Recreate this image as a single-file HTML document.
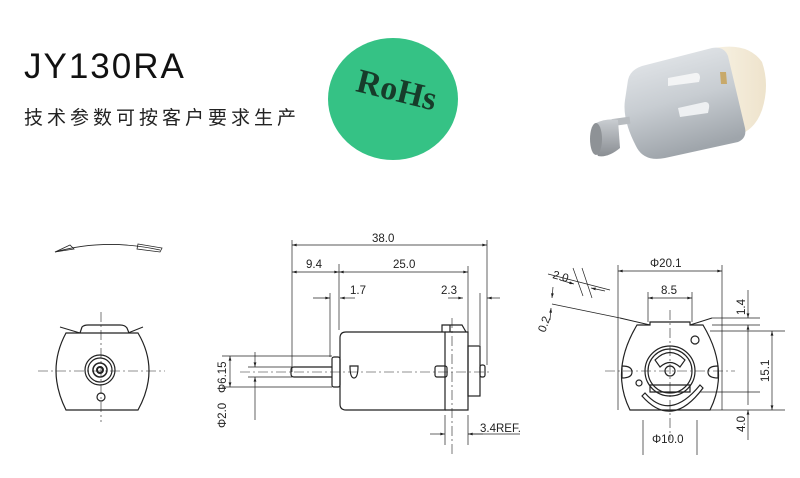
<!DOCTYPE html>
<html><head><meta charset="utf-8"><style>
html,body{margin:0;padding:0;background:#fff;width:800px;height:478px;overflow:hidden}
svg{display:block}
.t{font-family:"Liberation Sans",sans-serif;fill:#222}
</style></head><body>
<svg width="800" height="478" viewBox="0 0 800 478" xmlns="http://www.w3.org/2000/svg">
<defs>
<marker id="a" viewBox="0 0 10 6" refX="10" refY="3" markerWidth="8" markerHeight="4" orient="auto-start-reverse"><path d="M0,0L10,3L0,6z" fill="#222"/></marker>
<linearGradient id="m" x1="0" y1="0" x2="0.3" y2="1"><stop offset="0" stop-color="#e8ebee"/><stop offset="0.55" stop-color="#c8cdd2"/><stop offset="1" stop-color="#9fa5ab"/></linearGradient>
<linearGradient id="w" x1="0" y1="0" x2="1" y2="0"><stop offset="0" stop-color="#f7f1e2"/><stop offset="1" stop-color="#eee3cc"/></linearGradient>
<linearGradient id="g" x1="0" y1="0" x2="0" y2="1"><stop offset="0" stop-color="#c9cdd1"/><stop offset="1" stop-color="#8a8e93"/></linearGradient>
</defs>
<text class="t" x="24" y="78" font-size="35" letter-spacing="2" style="fill:#111">JY130RA</text>
<text x="24" y="124" font-size="19" letter-spacing="4" font-family="'Liberation Sans','Noto Sans CJK SC',sans-serif" fill="#222">技术参数可按客户要求生产</text>
<ellipse cx="393" cy="99" rx="65" ry="61" fill="#35c285"/>
<text x="355" y="102" font-size="34" font-weight="bold" font-family="'Liberation Serif',serif" fill="#173c2a" transform="rotate(14 400 95)">RoHs</text>
<g>
<path d="M715,48 Q748,42 762,62 Q770,85 762,110 Q755,130 738,135 L722,138 Z" fill="url(#w)"/>
<path d="M628,80 Q630,70 642,66 L712,48 Q724,46 728,56 L745,128 Q747,138 738,142 L665,158 Q645,162 637,148 Q622,120 625,100 Z" fill="url(#m)"/>
<path d="M668,78 L695,73 Q700,72 700,78 L699,82 L668,86 Z" fill="#f3f4f5"/>
<path d="M678,108 L705,102 Q710,102 709,108 L708,113 L680,117 Z" fill="#eef0f2"/>
<path d="M720,72 L726,72 L727,84 L721,84Z" fill="#c8a96a"/>
<rect x="612" y="118" width="18" height="7" fill="#b8bcc0" transform="rotate(-8 620 121)"/>
<path d="M596,123 Q607,118 618,120 L620,148 Q608,158 598,156 Q588,140 596,123Z" fill="url(#g)"/>
<ellipse cx="596" cy="139" rx="6" ry="16" fill="#8e9296"/>
</g>
<g stroke="#222" stroke-width="1.2" fill="none">
<path d="M55,252 Q105,238 160,250" stroke-width="0.8"/>
<path d="M55,252 L70,245 L74,249Z M138,244 L162,248 L160,252 L137,249Z" stroke-width="0.8"/>
<path d="M66,333 L138,333 Q160,370 138,410 L66,410 Q46,370 66,333Z"/>
<path d="M80,333 L82,327 Q84,325 88,325 L120,325 Q125,325 127,328 L129,333"/>
<path d="M60,327 L80,333 M128,333 L143,327" stroke-width="1"/>
<circle cx="100" cy="370" r="15"/><circle cx="100" cy="370" r="12"/><circle cx="100" cy="370" r="7" stroke-width="1.5"/><circle cx="100" cy="370" r="3" stroke-width="2"/>
<circle cx="101" cy="397" r="4"/>
<path d="M38,371 H165 M101,312 V422" stroke-width="0.6" stroke-dasharray="10 3 2 3"/>
<path d="M346,332 H445 V410 H346 Q340,410 340,404 V338 Q340,332 346,332Z"/>
<path d="M445,332 H468 V410 H445"/>
<path d="M442,332 V325 H462 L466,332 M450,325 V332"/>
<rect x="468" y="346" width="12" height="50"/>
<rect x="480" y="365" width="5" height="12" rx="2"/>
<rect x="435" y="366" width="12" height="11" rx="2"/>
<rect x="332" y="357" width="8" height="30" rx="2"/>
<path d="M332,367 H294 Q291,367 291,370 V374 Q291,377 294,377 H332"/>
<path d="M350,366 H358 Q358,378 354,378 Q350,378 350,366Z"/>
<path d="M240,372 H492 M452,318 V455" stroke-width="0.6" stroke-dasharray="10 3 2 3"/>
<g stroke-width="0.7">
<path d="M292,240 V372 M339,264 V330 M330,293 V357 M468,266 V332 M487,240 V365 M480,293 V345 M468,415 V445 M445,415 V445"/>
<path d="M292,245 H487" marker-start="url(#a)" marker-end="url(#a)"/>
<path d="M292,272 H339" marker-start="url(#a)" marker-end="url(#a)"/>
<path d="M339,272 H468" marker-start="url(#a)" marker-end="url(#a)"/>
<path d="M313,298 H330" marker-end="url(#a)"/><path d="M355,298 H340" marker-end="url(#a)"/>
<path d="M448,298 H463" marker-end="url(#a)"/><path d="M500,298 H487" marker-end="url(#a)"/>
<path d="M430,434 H445" marker-end="url(#a)"/><path d="M483,434 H468" marker-end="url(#a)"/><path d="M468,434 H520"/>
<path d="M222,356 H332 M222,387 H332 M248,367 H292 M248,377 H292"/>
<path d="M230,356 V387" marker-start="url(#a)" marker-end="url(#a)"/>
<path d="M255,352 V367" marker-end="url(#a)"/><path d="M255,420 V377" marker-end="url(#a)"/>
</g>
<path d="M637,325 L650,325 V322 H690 V325 L703,325 Q730,370 710,410 L630,410 Q610,370 637,325Z"/>
<path d="M620,318 L650,325 M690,325 L712,318" stroke-width="1"/>
<circle cx="670" cy="371" r="25"/><circle cx="670" cy="371" r="22"/>
<path d="M655,360 Q670,345 685,360 L680,367 Q670,358 660,367Z"/>
<path d="M650,385 H690 V392 H650Z"/>
<circle cx="670" cy="371" r="5"/>
<path d="M645,393 Q670,422 700,385 L703,388 Q672,430 642,396Z"/>
<circle cx="695" cy="340" r="4"/><circle cx="639" cy="383" r="3"/>
<path d="M622,366 Q632,366 632,372 Q632,378 622,378Z M718,366 Q708,366 708,372 Q708,378 718,378Z"/>
<path d="M605,371 H735 M670,310 V440" stroke-width="0.6" stroke-dasharray="10 3 2 3"/>
<g stroke-width="0.7">
<path d="M618,265 V410 M722,265 V410 M648,292 V322 M692,292 V322 M643,420 V455 M697,420 V455"/>
<path d="M618,271 H722" marker-start="url(#a)" marker-end="url(#a)"/>
<path d="M648,298 H692" marker-start="url(#a)" marker-end="url(#a)"/>
<path d="M712,318 H760 M712,325 H760 M710,331 H785 M710,410 H785 M700,392 H760"/>
<path d="M748,290 V318" marker-end="url(#a)"/><path d="M748,345 V325" marker-end="url(#a)"/>
<path d="M748,345 V405"/>
<path d="M772,331 V410" marker-start="url(#a)" marker-end="url(#a)"/>
<path d="M748,440 V410" marker-end="url(#a)"/>
<path d="M548,274 L610,290"/>
<path d="M552,304 L620,318"/>
<path d="M573,268 L583,296 M582,268 L592,298"/>
<path d="M560,280 L574,284" marker-end="url(#a)"/><path d="M605,291 L591,288" marker-end="url(#a)"/>
<path d="M553,287 L552,298" marker-end="url(#a)"/><path d="M550,320 L551,308" marker-end="url(#a)"/>
</g>
</g>
<g class="t" font-size="11.5">
<text x="372" y="242">38.0</text>
<text x="306" y="268">9.4</text>
<text x="393" y="268">25.0</text>
<text x="350" y="294">1.7</text>
<text x="441" y="294">2.3</text>
<text x="480" y="432">3.4REF.</text>
<text transform="translate(226,393) rotate(-90)">Φ6.15</text>
<text transform="translate(226,428) rotate(-90)">Φ2.0</text>
<text x="650" y="267">Φ20.1</text>
<text x="661" y="294">8.5</text>
<text x="652" y="443">Φ10.0</text>
<text transform="translate(745,315) rotate(-90)">1.4</text>
<text transform="translate(769,382) rotate(-90)">15.1</text>
<text transform="translate(745,432) rotate(-90)">4.0</text>
<text transform="translate(552,278) rotate(15)">2.0</text>
<text transform="translate(545,333) rotate(-70)">0.2</text>
</g>
</svg>
</body></html>
